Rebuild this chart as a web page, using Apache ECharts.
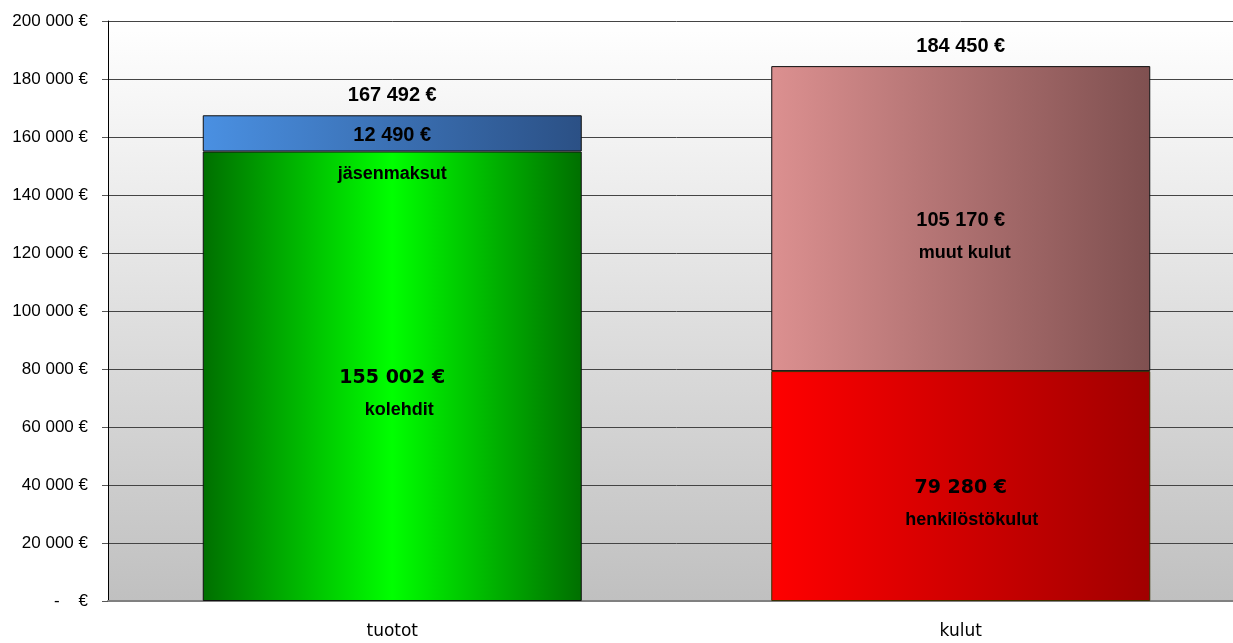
<!DOCTYPE html>
<html>
<head>
<meta charset="utf-8">
<script src="https://cdn.jsdelivr.net/npm/echarts@6/dist/echarts.min.js"></script>
<style>
  html, body { margin: 0; padding: 0; background: #fff; overflow: hidden; }
  /* the plot runs a little past the right edge of the window, like the original */
  #chart { width: 1245px; height: 643px; }
</style>
</head>
<body>
<div id="chart"></div>
<script>
const categories = ['tuotot', 'kulut']
const segmentNames = ['kolehdit', 'jäsenmaksut', 'henkilöstökulut', 'muut kulut']
// [tuotot, kulut] per segment, '-' where the segment does not belong to the bar
const kolehdit = [155002, '-']
const jasenmaksut = [12490, '-']
const henkilostokulut = ['-', 79280]
const muutKulut = ['-', 105170]
const yTicks = { min: 0, max: 200000, interval: 20000 }

function fmt(v) {
  if (v === 0) return '-    €'
  return String(Math.round(v)).replace(/\B(?=(\d{3})+(?!\d))/g, ' ') + ' €'
}

function num(v) {
  return v === '-' ? 0 : v
}

const totals = categories.map((c, i) =>
  num(kolehdit[i]) + num(jasenmaksut[i]) + num(henkilostokulut[i]) + num(muutKulut[i]))

function grad(from, mid, to) {
  const stops = mid
    ? [{ offset: 0, color: from }, { offset: 0.5, color: mid }, { offset: 1, color: to }]
    : [{ offset: 0, color: from }, { offset: 1, color: to }]
  return new echarts.graphic.LinearGradient(0, 0, 1, 0, stops)
}

// value on the segment centre, name below it
function segLabel(name, valueFont, valueSize, gap, shift) {
  return {
    show: true,
    position: 'inside',
    offset: [0, gap / 2 + 2],
    formatter: p => '{v|' + fmt(p.value) + '}\n{n|' + name + '}',
    rich: {
      v: { fontFamily: valueFont, fontSize: valueSize, fontWeight: 'bold', color: '#000', lineHeight: gap },
      n: {
        fontFamily: 'Liberation Sans', fontSize: 18, fontWeight: 'bold', color: '#000',
        lineHeight: gap, padding: [0, 0, 0, shift * 2]
      }
    }
  }
}

function segment(name, data, color, label, border) {
  return {
    name: name,
    type: 'bar',
    stack: 'total',
    barWidth: 379,
    data: data,
    itemStyle: { color: color, borderColor: border || '#111', borderWidth: 1 },
    label: label
  }
}

const chart = echarts.init(document.getElementById('chart'))
chart.setOption({
  animation: false,
  grid: {
    left: 108,
    top: 21,
    right: 0,
    bottom: 42,
    show: true,
    borderWidth: 0,
    backgroundColor: new echarts.graphic.LinearGradient(0, 0, 0, 1, [
      { offset: 0, color: '#ffffff' },
      { offset: 1, color: '#c0c0c0' }
    ])
  },
  xAxis: {
    type: 'category',
    data: categories,
    axisLine: { lineStyle: { color: '#808080', width: 2 } },
    axisTick: { show: false },
    axisLabel: { color: '#000', fontFamily: 'DejaVu Sans', fontSize: 17, margin: 22 }
  },
  yAxis: {
    type: 'value',
    min: yTicks.min,
    max: yTicks.max,
    interval: yTicks.interval,
    axisLine: { show: true, lineStyle: { color: '#000', width: 1 } },
    axisTick: { show: true, length: 6, lineStyle: { color: '#555' } },
    splitLine: { lineStyle: { color: '#444', width: 1 } },
    axisLabel: {
      color: '#000',
      fontFamily: 'Liberation Sans',
      fontSize: 17,
      margin: 20,
      formatter: fmt
    }
  },
  series: [
    segment(segmentNames[0], kolehdit, grad('#006f00', '#00ff00', '#006f00'),
      segLabel(segmentNames[0], 'DejaVu Sans', 19, 32, 7)),
    segment(segmentNames[1], jasenmaksut, grad('#4a90e2', null, '#2b5085'),
      segLabel(segmentNames[1], 'Liberation Sans', 20, 39, 0)),
    segment(segmentNames[2], henkilostokulut, grad('#ff0000', null, '#a00000'),
      segLabel(segmentNames[2], 'DejaVu Sans', 19, 32, 11), '#3a3000'),
    segment(segmentNames[3], muutKulut, grad('#dc9090', null, '#7f5050'),
      segLabel(segmentNames[3], 'Liberation Sans', 20, 32, 4)),
    {
      name: 'yhteensä',
      type: 'scatter',
      data: totals,
      symbolSize: 1,
      itemStyle: { color: 'rgba(0,0,0,0)', opacity: 1 },
      label: {
        show: true,
        position: 'top',
        distance: 9,
        formatter: p => fmt(p.value),
        fontFamily: 'Liberation Sans',
        fontSize: 20,
        fontWeight: 'bold',
        color: '#000'
      }
    }
  ]
})
</script>
</body>
</html>
